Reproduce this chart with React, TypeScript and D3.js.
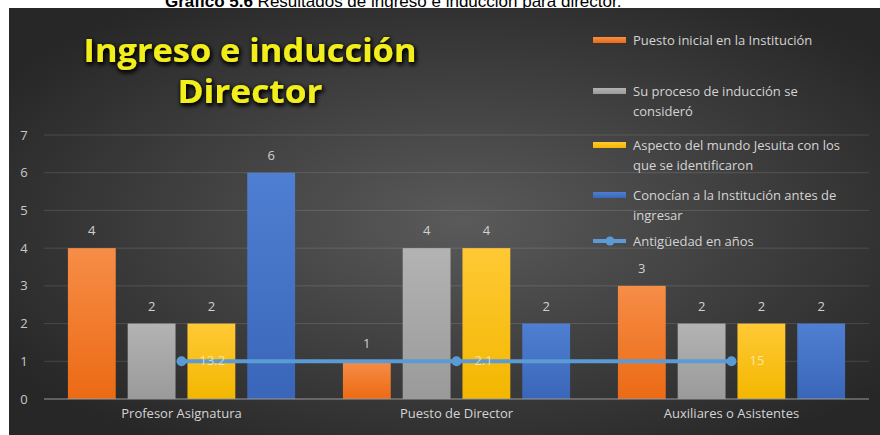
import React, { useEffect, useRef } from 'react';
import * as d3 from 'd3';

// chart data
const categories = ['Profesor Asignatura', 'Puesto de Director', 'Auxiliares o Asistentes'];
const puestoInicial = [4, 1, 3];
const procesoInduccion = [2, 4, 2];
const aspectoJesuita = [2, 4, 2];
const conocian = [6, 2, 2];
const antiguedadLevel = [1, 1, 1];
const antiguedadLabels = ['13.2', '2.1', '15'];
const yTicks = [0, 1, 2, 3, 4, 5, 6, 7];
const legendLines = [
  ['Puesto inicial en la Institución'],
  ['Su proceso de inducción se', 'consideró'],
  ['Aspecto del mundo Jesuita con los', 'que se identificaron'],
  ['Conocían a la Institución antes de', 'ingresar'],
  ['Antigüedad en años'],
];

const W = 880;
const H = 435;

const App = () => {
  const ref = useRef<SVGSVGElement>(null);

  useEffect(() => {
    const svg = d3.select(ref.current);
    svg.selectAll('*').remove();

    const values = [puestoInicial, procesoInduccion, aspectoJesuita, conocian];
    const colors = [
      ['#f68d47', '#ec6a14'],
      ['#b3b3b3', '#9a9a9a'],
      ['#ffc935', '#f3b700'],
      ['#4f7fd2', '#3a66b9'],
    ];
    const font = "'Open Sans', sans-serif";

    const defs = svg.append('defs');
    const bg = defs.append('radialGradient').attr('id', 'bg')
      .attr('cx', '52%').attr('cy', '50%').attr('r', '62%');
    bg.append('stop').attr('offset', '0%').attr('stop-color', '#5a5a5a');
    bg.append('stop').attr('offset', '100%').attr('stop-color', '#272727');
    colors.forEach((c, i) => {
      const g = defs.append('linearGradient').attr('id', 'bar' + i)
        .attr('x1', 0).attr('y1', 0).attr('x2', 0).attr('y2', 1);
      g.append('stop').attr('offset', '0%').attr('stop-color', c[0]);
      g.append('stop').attr('offset', '100%').attr('stop-color', c[1]);
    });
    const glow = defs.append('filter').attr('id', 'glow')
      .attr('x', '-10%').attr('y', '-30%').attr('width', '120%').attr('height', '160%');
    glow.append('feGaussianBlur').attr('in', 'SourceAlpha').attr('stdDeviation', 2.5).attr('result', 'b');
    glow.append('feOffset').attr('in', 'b').attr('dx', 1).attr('dy', 2).attr('result', 'o');
    const merge = glow.append('feMerge');
    merge.append('feMergeNode').attr('in', 'o');
    merge.append('feMergeNode').attr('in', 'o');
    merge.append('feMergeNode').attr('in', 'SourceGraphic');

    // caption above the chart (cut off at the top, as in the source)
    const cap = svg.append('text').attr('x', 165).attr('y', 7)
      .style('font-family', "'Liberation Sans', Arial, sans-serif").style('font-size', '17px').attr('fill', '#000');
    cap.append('tspan').style('font-weight', 'bold').text('Gráfico 5.6');
    cap.append('tspan').text(' Resultados de ingreso e inducción para director.');

    svg.append('rect').attr('x', 9).attr('y', 8).attr('width', W - 9).attr('height', H - 8)
      .attr('fill', 'url(#bg)');

    const left = 44, right = 869, bottom = 399, top = 135;
    const y = d3.scaleLinear().domain([0, 7]).range([bottom, top]);
    const x0 = d3.scaleBand().domain(categories).range([left, right]).padding(0);
    const x1 = d3.scaleBand<number>().domain([0, 1, 2, 3]).range([0, x0.bandwidth()])
      .paddingInner(0.2).paddingOuter(0.4);

    // gridlines
    svg.append('g').selectAll('line').data(yTicks.filter(t => t > 0)).enter().append('line')
      .attr('x1', left).attr('x2', right)
      .attr('y1', d => y(d)).attr('y2', d => y(d))
      .attr('stroke', '#ffffff').attr('stroke-opacity', 0.13).attr('stroke-width', 1);

    svg.append('g').selectAll('text').data(yTicks).enter().append('text')
      .attr('x', 24).attr('y', d => y(d)).attr('dy', '0.35em')
      .attr('text-anchor', 'middle').attr('fill', '#c8c8c8')
      .style('font-family', font).style('font-size', '13px')
      .text(d => d);

    // bars
    values.forEach((vals, s) => {
      const g = svg.append('g');
      g.selectAll('rect').data(vals).enter().append('rect')
        .attr('x', (d, i) => (x0(categories[i]) as number) + (x1(s) as number))
        .attr('width', x1.bandwidth())
        .attr('y', d => y(d))
        .attr('height', d => bottom - y(d))
        .attr('fill', 'url(#bar' + s + ')');
      g.selectAll('text').data(vals).enter().append('text')
        .attr('x', (d, i) => (x0(categories[i]) as number) + (x1(s) as number) + x1.bandwidth() / 2)
        .attr('y', d => y(d) - 13)
        .attr('text-anchor', 'middle').attr('fill', '#d0d0d0')
        .style('font-family', font).style('font-size', '13px')
        .text(d => d);
    });

    // axis baseline
    svg.append('line').attr('x1', left).attr('x2', right).attr('y1', bottom).attr('y2', bottom)
      .attr('stroke', '#9a9a9a').attr('stroke-width', 1.2);

    svg.append('g').selectAll('text').data(categories).enter().append('text')
      .attr('x', d => (x0(d) as number) + x0.bandwidth() / 2).attr('y', 418)
      .attr('text-anchor', 'middle').attr('fill', '#d4d4d4')
      .style('font-family', font).style('font-size', '13px')
      .text(d => d);

    // line series
    const cx = (i: number) => (x0(categories[i]) as number) + x0.bandwidth() / 2;
    const line = d3.line<number>().x((d, i) => cx(i)).y(d => y(d));
    svg.append('path').datum(antiguedadLevel).attr('d', line)
      .attr('fill', 'none').attr('stroke', '#5b9bd5').attr('stroke-width', 4);
    svg.append('g').selectAll('circle').data(antiguedadLevel).enter().append('circle')
      .attr('cx', (d, i) => cx(i)).attr('cy', d => y(d)).attr('r', 5)
      .attr('fill', '#5b9bd5');
    svg.append('g').selectAll('text').data(antiguedadLabels).enter().append('text')
      .attr('x', (d, i) => cx(i) + 18).attr('y', (d, i) => y(antiguedadLevel[i]) + 4)
      .attr('fill', '#ffffff').attr('fill-opacity', 0.6)
      .style('font-family', font).style('font-size', '13px')
      .text(d => d);

    // title
    const title = svg.append('g').attr('filter', 'url(#glow)')
      .style('font-family', font).style('font-weight', 'bold').style('font-size', '33px')
      .attr('fill', '#f2ee1c').attr('text-anchor', 'middle');
    title.append('text').attr('x', 250).attr('y', 62).attr('textLength', 333)
      .attr('lengthAdjust', 'spacingAndGlyphs').text('Ingreso e inducción');
    title.append('text').attr('x', 250).attr('y', 103).attr('textLength', 145)
      .attr('lengthAdjust', 'spacingAndGlyphs').text('Director');

    // legend
    const legendY = [40, 91, 145, 195, 241];
    const lg = svg.append('g').style('font-family', font).style('font-size', '13px');
    legendLines.forEach((lines, i) => {
      if (i < 4) {
        lg.append('rect').attr('x', 593).attr('y', legendY[i] - 3).attr('width', 33).attr('height', 6)
          .attr('fill', 'url(#bar' + i + ')');
      } else {
        lg.append('line').attr('x1', 593).attr('x2', 626).attr('y1', legendY[i]).attr('y2', legendY[i])
          .attr('stroke', '#5b9bd5').attr('stroke-width', 4);
        lg.append('circle').attr('cx', 610).attr('cy', legendY[i]).attr('r', 4.5).attr('fill', '#5b9bd5');
      }
      lines.forEach((t, j) => {
        lg.append('text').attr('x', 633).attr('y', legendY[i] + j * 20).attr('dy', '0.35em')
          .attr('fill', '#d4d4d4').text(t);
      });
    });
  }, []);

  return (
    <svg ref={ref} width={W} height={H}
      style={{ position: 'absolute', left: 0, top: 0, display: 'block' }} />
  );
};

export default App;
